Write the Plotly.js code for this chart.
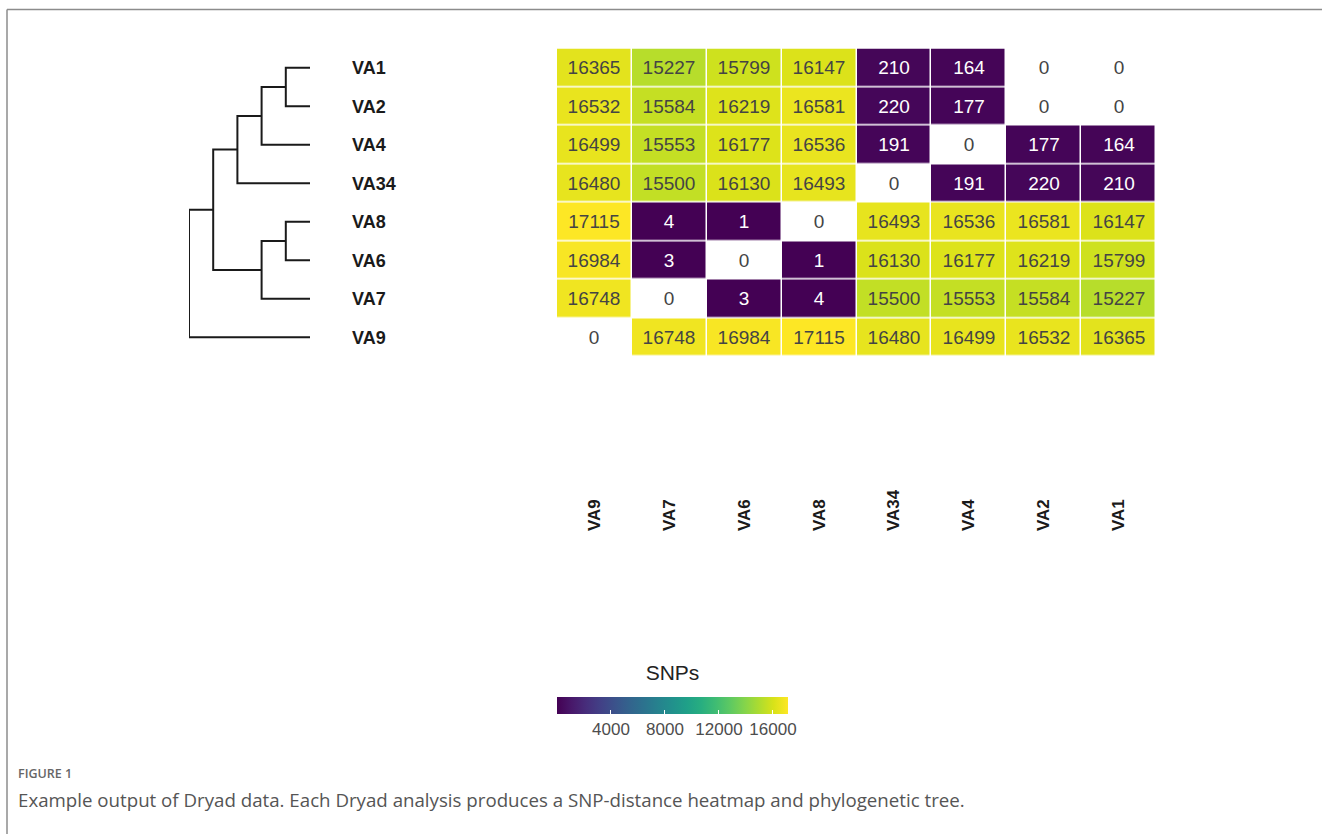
<!DOCTYPE html>
<html>
<head>
<meta charset="utf-8">
<script src="https://cdn.plot.ly/plotly-3.0.1.min.js"></script>
<style>html,body{margin:0;padding:0;background:#fff;} #chart{width:1322px;height:834px;}</style>
</head>
<body>
<div id="chart"></div>
<script>
// ---- data ----
const rowLabels = ["VA1", "VA2", "VA4", "VA34", "VA8", "VA6", "VA7", "VA9"];
const colLabels = ["VA9", "VA7", "VA6", "VA8", "VA34", "VA4", "VA2", "VA1"];
const snpVA1  = [16365, 15227, 15799, 16147, 210, 164, 0, 0];
const snpVA2  = [16532, 15584, 16219, 16581, 220, 177, 0, 0];
const snpVA4  = [16499, 15553, 16177, 16536, 191, 0, 177, 164];
const snpVA34 = [16480, 15500, 16130, 16493, 0, 191, 220, 210];
const snpVA8  = [17115, 4, 1, 0, 16493, 16536, 16581, 16147];
const snpVA6  = [16984, 3, 0, 1, 16130, 16177, 16219, 15799];
const snpVA7  = [16748, 0, 3, 4, 15500, 15553, 15584, 15227];
const snpVA9  = [0, 16748, 16984, 17115, 16480, 16499, 16532, 16365];
const colorbarTicks = [4000, 8000, 12000, 16000];
const colorbarTickText = ["4000", "8000", "12000", "16000"];
// dendrogram merges: node n(i+1) joins mergeLeft[i] and mergeRight[i] at mergeHeight[i]
const mergeLeft   = ["VA1", "VA8", "n1", "n2", "n3",   "n5", "n6"];
const mergeRight  = ["VA2", "VA6", "VA4", "VA7", "VA34", "n4", "VA9"];
const mergeHeight = [1, 1, 2, 2, 3, 4, 5];
const legendTitle = "SNPs";
const figLabel = "FIGURE 1";
const captionText = "Example output of Dryad data. Each Dryad analysis produces a SNP-distance heatmap and phylogenetic tree.";

// ---- build ----
const zRows = [snpVA1, snpVA2, snpVA4, snpVA34, snpVA8, snpVA6, snpVA7, snpVA9];
const textRows = zRows.map(r => r.map(v => String(v)));
const rowIdx = rowLabels.map((_, i) => i);
const zMax = Math.max(...zRows.flat());

const viridis = ['#440154','#48186a','#472d7b','#424086','#3b528b','#33638d','#2c728e','#26828e','#21918c','#1fa088','#28ae80','#3fbc73','#5ec962','#84d44b','#addc30','#d8e219','#fde725'];
const cscale = [[0, '#ffffff'], [0.00001, '#ffffff']];
viridis.forEach((c, i) => {
  const f = i / (viridis.length - 1);
  cscale.push([Math.max(f, 0.00002), c]);
});

// dendrogram segments
const pos = {};
rowLabels.forEach((n, i) => { pos[n] = {y: i, h: 0}; });
const dx = [], dy = [];
mergeLeft.forEach((l, i) => {
  const r = mergeRight[i], h = mergeHeight[i];
  const a = pos[l], b = pos[r];
  dx.push(a.h, h, h, b.h, null);
  dy.push(a.y, a.y, b.y, b.y, null);
  pos['n' + (i + 1)] = {y: (a.y + b.y) / 2, h: h};
});

const W = 1322, H = 834;
const px = v => v / W, py = v => 1 - v / H;
const yDom = [py(356.5), py(48.5)];
const sans = 'Liberation Sans, Arial, sans-serif';

const heat = {
  type: 'heatmap',
  x: colLabels,
  y: rowIdx,
  z: zRows,
  text: textRows,
  texttemplate: '%{text}',
  textfont: {family: sans, size: 19},
  zmin: 0, zmax: zMax,
  colorscale: cscale,
  xgap: 1.5, ygap: 1.5,
  hoverinfo: 'skip',
  colorbar: {
    orientation: 'h',
    thickness: 17, thicknessmode: 'pixels',
    len: 231, lenmode: 'pixels',
    x: px(672.5), xanchor: 'center',
    y: py(674), yanchor: 'top',
    xpad: 0, ypad: 0,
    outlinewidth: 0,
    tickmode: 'array', tickvals: colorbarTicks, ticktext: colorbarTickText,
    ticks: 'inside', tickcolor: '#ffffff', ticklen: 4, tickwidth: 1,
    tickfont: {family: sans, size: 17, color: '#4d4d4d'},
    title: {text: legendTitle, side: 'top', font: {family: sans, size: 21, color: '#222'}}
  }
};

const tree = {
  type: 'scatter', mode: 'lines',
  x: dx, y: dy,
  xaxis: 'x2', yaxis: 'y2',
  line: {color: '#1a1a1a', width: 2},
  hoverinfo: 'skip', showlegend: false
};

const layout = {
  width: W, height: H,
  margin: {l: 0, r: 0, t: 0, b: 0},
  paper_bgcolor: '#ffffff', plot_bgcolor: '#ffffff',
  showlegend: false,
  xaxis: {
    domain: [px(557), px(1156)],
    anchor: 'free', position: py(531), side: 'top',
    tickangle: -90, ticks: '', showline: false, showgrid: false, zeroline: false,
    tickfont: {family: sans, size: 17, color: '#1a1a1a', weight: 'bold'}
  },
  yaxis: {
    domain: yDom, range: [7.5, -0.5],
    showticklabels: false, ticks: '', showline: false, showgrid: false, zeroline: false
  },
  xaxis2: {
    domain: [px(189), px(310)], range: [5, 0], anchor: 'y2', visible: false
  },
  yaxis2: {
    domain: yDom, range: [7.5, -0.5],
    anchor: 'free', position: px(351), side: 'right',
    tickmode: 'array', tickvals: rowIdx, ticktext: rowLabels,
    ticks: '', showline: false, showgrid: false, zeroline: false,
    tickfont: {family: sans, size: 18, color: '#1a1a1a', weight: 'bold'}
  },
  shapes: [
    {type: 'line', xref: 'paper', yref: 'paper', x0: px(7), x1: 1, y0: py(9.5), y1: py(9.5), line: {color: '#8c8c8c', width: 1.5}},
    {type: 'line', xref: 'paper', yref: 'paper', x0: px(7), x1: px(7), y0: py(9.5), y1: 0, line: {color: '#8c8c8c', width: 1.5}}
  ],
  annotations: [
    {xref: 'paper', yref: 'paper', x: px(16), y: py(773), xanchor: 'left', yanchor: 'middle', showarrow: false,
     text: figLabel, font: {family: 'Open Sans, sans-serif', size: 12.5, color: '#666', weight: 600}},
    {xref: 'paper', yref: 'paper', x: px(16), y: py(799), xanchor: 'left', yanchor: 'middle', showarrow: false,
     text: captionText, font: {family: 'Open Sans, sans-serif', size: 18.7, color: '#555'}}
  ]
};

Plotly.newPlot('chart', [heat, tree], layout, {displayModeBar: false, staticPlot: true});
</script>
</body>
</html>
